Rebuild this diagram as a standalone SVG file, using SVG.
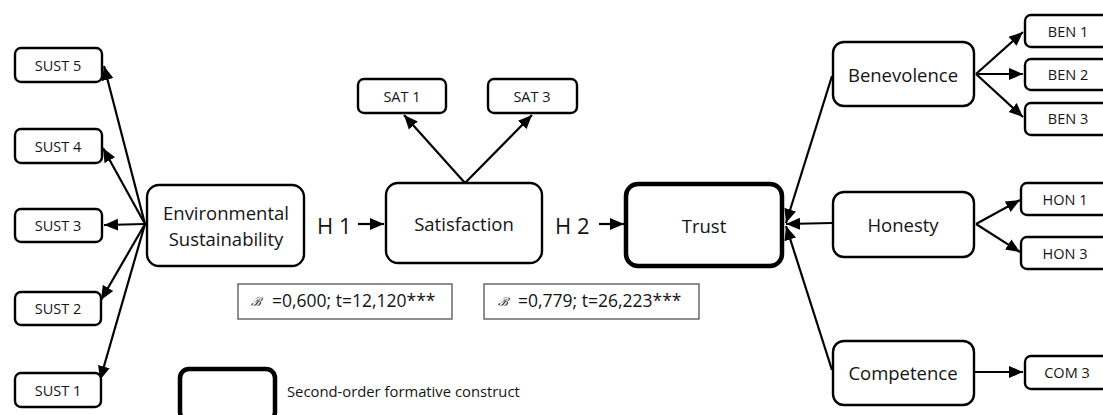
<svg xmlns="http://www.w3.org/2000/svg" width="1103" height="415" viewBox="0 0 1103 415">
<style>
.box{fill:#fff;stroke:#000;stroke-width:2.4}
.thick{fill:#fff;stroke:#000;stroke-width:4.5}
.stat{fill:#fff;stroke:#444;stroke-width:1.2}
.t{font-family:"Open Sans","Liberation Sans",sans-serif;fill:#141414;text-anchor:middle;dominant-baseline:central}
.s{font-size:14.5px}
.m{font-size:18.5px}
.h{font-family:"Open Sans","Liberation Sans",sans-serif;font-size:22px;fill:#141414;dominant-baseline:central}
.c line{stroke:#000;stroke-width:2.2}
</style>
<defs>
<marker id="ar" markerUnits="userSpaceOnUse" markerWidth="14" markerHeight="14" viewBox="0 0 14 14" refX="14" refY="7" orient="auto">
<path d="M0,1 L14,7 L0,13 z" fill="#000"/>
</marker>
</defs>
<g class="c">
<line x1="145" y1="224" x2="104" y2="66" marker-end="url(#ar)"/>
<line x1="145" y1="224" x2="103" y2="148" marker-end="url(#ar)"/>
<line x1="145" y1="224" x2="104" y2="225" marker-end="url(#ar)"/>
<line x1="145" y1="224" x2="101" y2="300" marker-end="url(#ar)"/>
<line x1="145" y1="224" x2="100" y2="380" marker-end="url(#ar)"/>
<line x1="358" y1="224" x2="384" y2="224" marker-end="url(#ar)"/>
<line x1="599" y1="224" x2="624" y2="224" marker-end="url(#ar)"/>
<line x1="465" y1="183" x2="404" y2="115" marker-end="url(#ar)"/>
<line x1="465" y1="183" x2="532" y2="115" marker-end="url(#ar)"/>
<line x1="832" y1="76" x2="786" y2="223" marker-end="url(#ar)"/>
<line x1="832" y1="223" x2="786" y2="224" marker-end="url(#ar)"/>
<line x1="832" y1="370" x2="786" y2="226" marker-end="url(#ar)"/>
<line x1="976" y1="74" x2="1023" y2="32" marker-end="url(#ar)"/>
<line x1="976" y1="74" x2="1023" y2="74" marker-end="url(#ar)"/>
<line x1="976" y1="74" x2="1023" y2="117" marker-end="url(#ar)"/>
<line x1="976" y1="224" x2="1020" y2="200" marker-end="url(#ar)"/>
<line x1="976" y1="224" x2="1020" y2="252" marker-end="url(#ar)"/>
<line x1="974" y1="372" x2="1023" y2="372" marker-end="url(#ar)"/>
</g>
<g id="sust5"><rect class="box" x="15" y="48" width="87" height="34" rx="6"/><text class="t s" x="58" y="65">SUST 5</text></g>
<g id="sust4"><rect class="box" x="15" y="129" width="87" height="34" rx="6"/><text class="t s" x="58" y="146">SUST 4</text></g>
<g id="sust3"><rect class="box" x="15" y="209" width="87" height="33" rx="6"/><text class="t s" x="58" y="225">SUST 3</text></g>
<g id="sust2"><rect class="box" x="15" y="292" width="86" height="33" rx="6"/><text class="t s" x="58" y="308">SUST 2</text></g>
<g id="sust1"><rect class="box" x="15" y="373" width="86" height="34" rx="6"/><text class="t s" x="58" y="390">SUST 1</text></g>
<g id="env"><rect class="box" x="147" y="185" width="157" height="81" rx="12"/><text class="t m" x="226" y="212">Environmental</text><text class="t m" x="226" y="238">Sustainability</text></g>
<g id="h1"><text class="h" x="317" y="225">H 1</text></g>
<g id="sat"><rect class="box" x="386" y="183" width="156" height="80" rx="12"/><text class="t m" x="464" y="223">Satisfaction</text></g>
<g id="sat1"><rect class="box" x="358" y="79" width="88" height="34" rx="6"/><text class="t s" x="402" y="96">SAT 1</text></g>
<g id="sat3"><rect class="box" x="488" y="79" width="89" height="34" rx="6"/><text class="t s" x="532" y="96">SAT 3</text></g>
<g id="h2"><text class="h" x="555" y="225">H 2</text></g>
<g id="trust"><rect class="thick" x="626" y="184" width="156" height="82" rx="12"/><text class="t m" x="704" y="225">Trust</text></g>
<g id="stat1"><rect class="stat" x="238" y="284" width="214" height="35"/><text x="251" y="302" font-family="DejaVu Serif,serif" font-size="12" font-style="italic" fill="#141414" dominant-baseline="central">ℬ</text><text x="272" y="300" font-family="Open Sans,Liberation Sans,sans-serif" font-size="17.5" fill="#141414" dominant-baseline="central">=0,600; t=12,120***</text></g>
<g id="stat2"><rect class="stat" x="484" y="284" width="215" height="35"/><text x="498" y="302" font-family="DejaVu Serif,serif" font-size="12" font-style="italic" fill="#141414" dominant-baseline="central">ℬ</text><text x="518" y="300" font-family="Open Sans,Liberation Sans,sans-serif" font-size="17.5" fill="#141414" dominant-baseline="central">=0,779; t=26,223***</text></g>
<g id="legend"><rect class="thick" x="180" y="369" width="95" height="52" rx="9" stroke-width="5"/><text x="287" y="391" font-family="Open Sans,Liberation Sans,sans-serif" font-size="14.8" fill="#141414" dominant-baseline="central">Second-order formative construct</text></g>
<g id="ben"><rect class="box" x="833" y="42" width="141" height="64" rx="11"/><text class="t m" x="903" y="74">Benevolence</text></g>
<g id="ben1"><rect class="box" x="1025" y="15" width="90" height="32" rx="6"/><text class="t s" x="1068" y="31">BEN 1</text></g>
<g id="ben2"><rect class="box" x="1025" y="59" width="90" height="31" rx="6"/><text class="t s" x="1068" y="74">BEN 2</text></g>
<g id="ben3"><rect class="box" x="1025" y="103" width="90" height="32" rx="6"/><text class="t s" x="1068" y="118">BEN 3</text></g>
<g id="hon"><rect class="box" x="833" y="192" width="141" height="65" rx="11"/><text class="t m" x="903" y="224">Honesty</text></g>
<g id="hon1"><rect class="box" x="1021" y="183" width="94" height="32" rx="6"/><text class="t s" x="1065" y="199">HON 1</text></g>
<g id="hon3"><rect class="box" x="1021" y="237" width="94" height="32" rx="6"/><text class="t s" x="1065" y="253">HON 3</text></g>
<g id="com"><rect class="box" x="833" y="341" width="141" height="64" rx="11"/><text class="t m" x="903" y="372">Competence</text></g>
<g id="com3"><rect class="box" x="1025" y="356" width="90" height="33" rx="6"/><text class="t s" x="1067" y="372">COM 3</text></g>
</svg>
